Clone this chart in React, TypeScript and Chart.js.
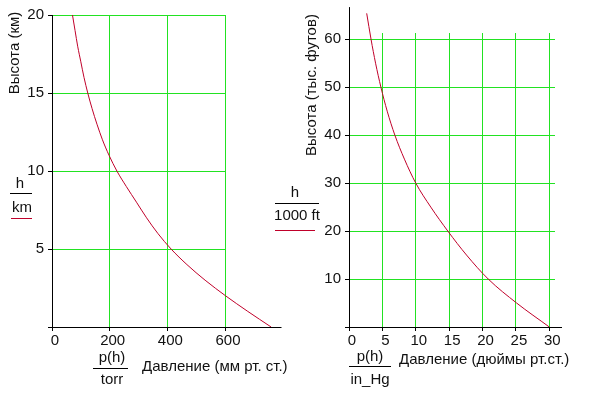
import React, { useEffect, useRef } from 'react';
import { Chart, registerables } from 'chart.js';
Chart.register(...registerables);

const FONT = '"Liberation Sans", Arial, sans-serif';
const TEXT = '#111';
const GREEN = '#22e222';
const RED = '#c0002a';

// Left plot: altitude (km) vs pressure (torr)
const kmHeights = [0, 1, 2, 3, 4, 5, 6, 7, 8, 9, 10, 11, 12, 13, 14, 15, 16, 17, 18, 19, 20];
const kmPressureTorr = [760, 679, 602, 531, 468, 413, 367, 328, 293, 258, 225, 198, 175, 156, 139, 124, 111, 100, 89, 80, 71];
const torrAxisMax = 600;
const torrAxisEnd = 796;
const torrStep = 200;
const kmAxisMax = 20;
const kmStep = 5;

// Right plot: altitude (thousand ft) vs pressure (in Hg)
const kftHeights = [0, 5, 10, 15, 20, 25, 30, 35, 40, 45, 50, 55, 60, 65.4];
const kftPressureInHg = [30, 25.1, 20.85, 17.6, 14.8, 12.25, 10.0, 8.3, 6.87, 5.72, 4.78, 3.98, 3.3, 2.65];
const inHgAxisMax = 30.85;
const inHgAxisEnd = 31.9;
const inHgStep = 5;
const kftAxisMax = 61.3;
const kftAxisEnd = 66.7;
const kftStep = 10;

function text(ctx: CanvasRenderingContext2D, s: string, x: number, y: number, align: CanvasTextAlign = 'center') {
  ctx.font = `15px ${FONT}`;
  ctx.fillStyle = TEXT;
  ctx.textAlign = align;
  ctx.textBaseline = 'alphabetic';
  ctx.fillText(s, x, y);
}
function hline(ctx: CanvasRenderingContext2D, x1: number, x2: number, y: number, color: string) {
  ctx.strokeStyle = color;
  ctx.lineWidth = 1;
  ctx.beginPath();
  ctx.moveTo(x1, y);
  ctx.lineTo(x2, y);
  ctx.stroke();
}
function vtext(ctx: CanvasRenderingContext2D, s: string, x: number, y: number) {
  ctx.save();
  ctx.translate(x, y);
  ctx.rotate(-Math.PI / 2);
  text(ctx, s, 0, 0, 'center');
  ctx.restore();
}

// keep the natural order (altitude rising, pressure falling) so every point is drawn
function points(xs: number[], ys: number[]) {
  return ys.map((y, i) => ({ x: xs[i], y }));
}

function baseOptions(pad: any, xMax: number, xStep: number, yMax: number, yStep: number, yWidth: number) {
  const tickFont = { family: FONT, size: 15 };
  return {
    responsive: false,
    animation: false,
    events: [],
    layout: { padding: pad },
    elements: { line: { capBezierPoints: false } },
    plugins: { legend: { display: false }, tooltip: { enabled: false } },
    scales: {
      x: {
        type: 'linear',
        min: 0,
        max: xMax,
        afterFit: (s: any) => { s.height = 71; },
        ticks: { stepSize: xStep, includeBounds: false, font: tickFont, color: TEXT, padding: 1, labelOffset: 3, maxRotation: 0, autoSkip: false },
        grid: { color: GREEN, lineWidth: 1, tickLength: 4, tickColor: '#000', drawTicks: true },
        border: { color: '#000', width: 1 },
      },
      y: {
        type: 'linear',
        min: 0,
        max: yMax,
        afterFit: (s: any) => { s.width = yWidth; },
        ticks: { stepSize: yStep, includeBounds: false, font: tickFont, color: TEXT, padding: 4, autoSkip: false, callback: (v: any) => (v === 0 ? '' : String(v)) },
        grid: { color: GREEN, lineWidth: 1, tickLength: 4, tickColor: '#000', drawTicks: true },
        border: { color: '#000', width: 1 },
      },
    },
  };
}

const leftExtras = {
  id: 'leftExtras',
  afterDraw(chart: any) {
    const ctx = chart.ctx as CanvasRenderingContext2D;
    const xs = chart.scales.x, ys = chart.scales.y;
    const y0 = Math.round(ys.getPixelForValue(0)) + 0.5;
    ctx.save();
    hline(ctx, 48, xs.getPixelForValue(torrAxisEnd), y0, '#000');
    vtext(ctx, 'Высота (км)', 19, 53);
    text(ctx, 'h', 20, 188);
    hline(ctx, 10, 32, 193.5, '#000');
    text(ctx, 'km', 22, 212);
    hline(ctx, 11, 32, 218.5, RED);
    text(ctx, 'p(h)', 112, 362);
    hline(ctx, 93, 128, 368.5, '#000');
    text(ctx, 'torr', 112, 384);
    text(ctx, 'Давление (мм рт. ст.)', 142, 371, 'left');
    ctx.restore();
  },
};

const rightExtras = {
  id: 'rightExtras',
  afterDraw(chart: any) {
    const ctx = chart.ctx as CanvasRenderingContext2D;
    const xs = chart.scales.x, ys = chart.scales.y;
    const y0 = Math.round(ys.getPixelForValue(0)) + 0.5;
    const x0 = Math.round(xs.getPixelForValue(0)) + 0.5;
    ctx.save();
    hline(ctx, 345, xs.getPixelForValue(inHgAxisEnd), y0, '#000');
    ctx.strokeStyle = '#000';
    ctx.beginPath();
    ctx.moveTo(x0, y0);
    ctx.lineTo(x0, ys.getPixelForValue(kftAxisEnd));
    ctx.stroke();
    vtext(ctx, 'Высота (тыс. футов)', 316, 85);
    text(ctx, 'h', 295, 197);
    hline(ctx, 275, 319, 203.5, '#000');
    text(ctx, '1000 ft', 297, 220);
    hline(ctx, 275, 315, 230.5, RED);
    text(ctx, 'p(h)', 370, 361);
    hline(ctx, 349, 391, 366.5, '#000');
    text(ctx, 'in_Hg', 370, 384);
    text(ctx, 'Давление (дюймы рт.ст.)', 399, 364, 'left');
    ctx.restore();
  },
};

function dataset(xs: number[], ys: number[]) {
  return {
    data: points(xs, ys),
    borderColor: RED,
    borderWidth: 1,
    pointRadius: 0,
    clip: false,
    cubicInterpolationMode: 'monotone',
    fill: false,
  };
}

export default function App() {
  const leftRef = useRef<HTMLCanvasElement>(null);
  const rightRef = useRef<HTMLCanvasElement>(null);
  useEffect(() => {
    const c1 = new Chart(leftRef.current!, {
      type: 'line',
      data: { datasets: [dataset(kmPressureTorr, kmHeights) as any] },
      options: baseOptions({ left: 0, right: 373, top: 15, bottom: 0 }, torrAxisMax, torrStep, kmAxisMax, kmStep, 52) as any,
      plugins: [leftExtras],
    });
    const c2 = new Chart(rightRef.current!, {
      type: 'line',
      data: { datasets: [dataset(kftPressureInHg, kftHeights) as any] },
      options: baseOptions({ left: 300, right: 43, top: 33, bottom: 0 }, inHgAxisMax, inHgStep, kftAxisMax, kftStep, 49) as any,
      plugins: [rightExtras],
    });
    return () => { c1.destroy(); c2.destroy(); };
  }, []);
  return (
    <div style={{ position: 'absolute', left: 0, top: 0, width: 598, height: 398, background: '#fff' }}>
      <canvas ref={leftRef} width={598} height={398} style={{ position: 'absolute', left: 0, top: 0 }} />
      <canvas ref={rightRef} width={598} height={398} style={{ position: 'absolute', left: 0, top: 0 }} />
    </div>
  );
}
